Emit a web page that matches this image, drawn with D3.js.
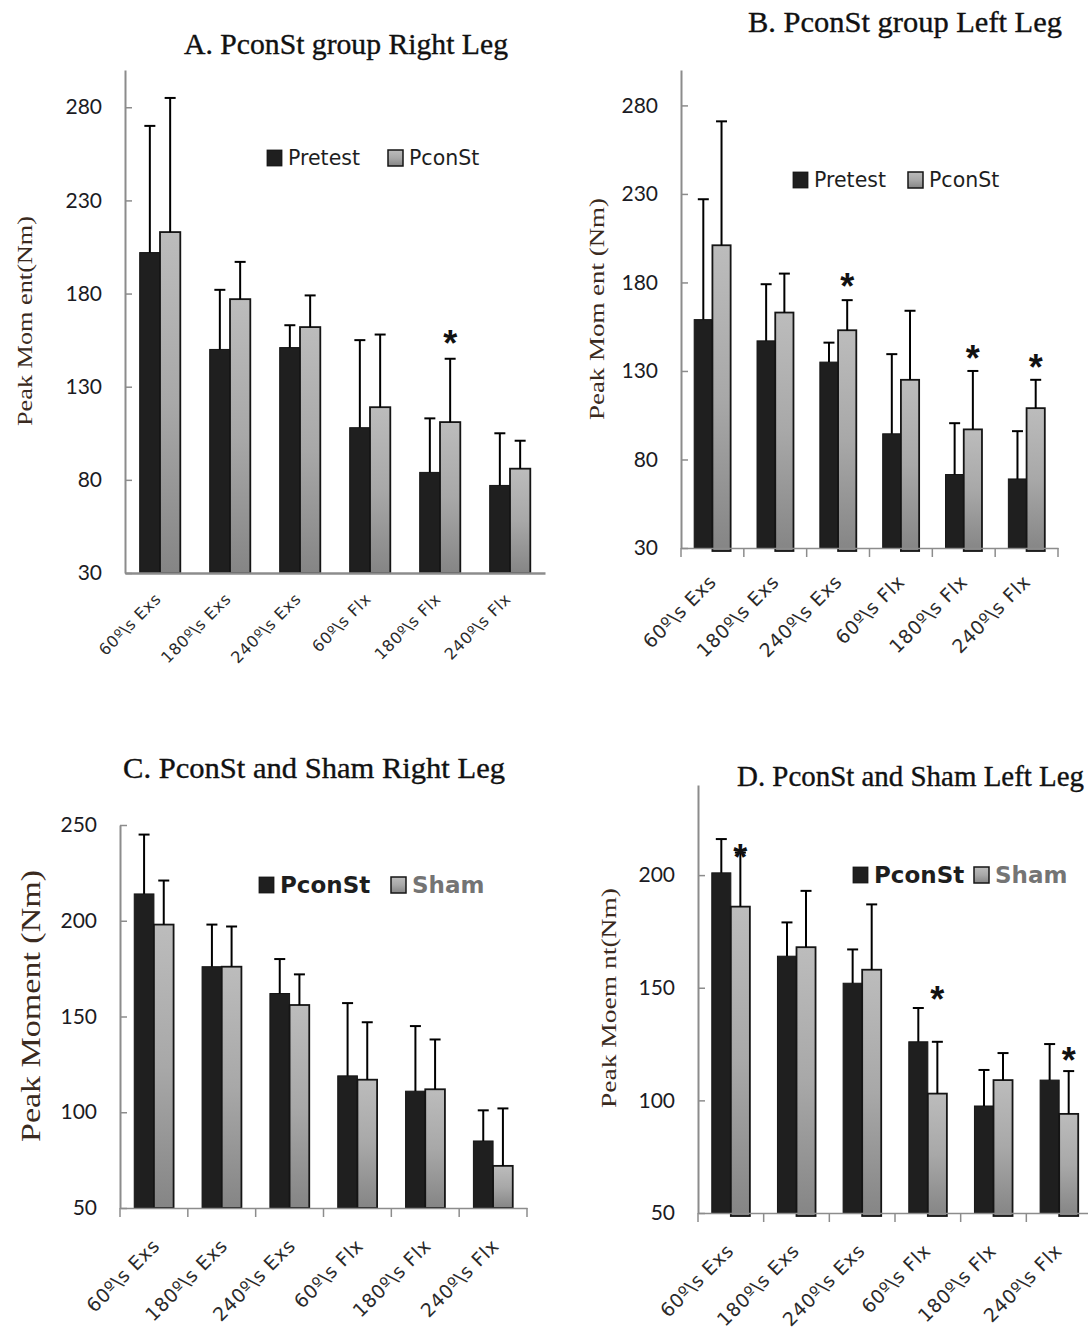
<!DOCTYPE html>
<html>
<head>
<meta charset="utf-8">
<script src="https://cdn.jsdelivr.net/npm/d3@7"></script>
<style>
  body { margin: 0; background: #fff; }
  svg { display: block; }
</style>
</head>
<body>
<svg id="chart" width="1088" height="1331"></svg>
<script>
// categories (shared by all four panels)
const categories = ["60º\\s Exs", "180º\\s Exs", "240º\\s Exs", "60º\\s Flx", "180º\\s Flx", "240º\\s Flx"];

// A. PconSt group, right leg
const rightPretest   = [202, 150, 151, 108, 84, 77];
const rightPretestSd = [68, 32, 12, 47, 29, 28];
const rightPconSt    = [213, 177, 162, 119, 111, 86];
const rightPconStSd  = [72, 20, 17, 39, 34, 15];
const rightStars     = [{ cat: 4, series: 1, at: 157 }];

// B. PconSt group, left leg
const leftPretest   = [159, 147, 135, 94.5, 71.5, 69];
const leftPretestSd = [68, 32, 11, 45, 29, 27];
const leftPconSt    = [201, 163, 153, 125, 97, 109];
const leftPconStSd  = [70, 22, 17, 39, 33, 16];
const leftStars     = [{ cat: 2, series: 1, at: 182 }, { cat: 4, series: 1, at: 141 }, { cat: 5, series: 1, at: 136 }];

// C. PconSt and Sham, right leg
const rightGroupPconSt   = [214, 176, 162, 119, 111, 85];
const rightGroupPconStSd = [31, 22, 18, 38, 34, 16];
const rightSham          = [198, 176, 156, 117, 112, 72];
const rightShamSd        = [23, 21, 16, 30, 26, 30];

// D. PconSt and Sham, left leg
const leftGroupPconSt   = [201, 164, 152, 126, 97.5, 109];
const leftGroupPconStSd = [15, 15, 15, 15, 16, 16];
const leftSham          = [186, 168, 158, 103, 109, 94];
const leftShamSd        = [24, 25, 29, 23, 12, 19];
const leftShamStars     = [{ cat: 0, series: 1, at: 211 }, { cat: 3, series: 1, at: 148 }, { cat: 5, series: 1, at: 121 }];

const ticksHigh = [30, 80, 130, 180, 230, 280];
const ticksC = [50, 100, 150, 200, 250];
const ticksD = [50, 100, 150, 200];

const panels = [
  {
    title: "A. PconSt group Right Leg", yLabel: "Peak Mom ent(Nm)",
    names: ["Pretest", "PconSt"], values: [rightPretest, rightPconSt], sds: [rightPretestSd, rightPconStSd],
    stars: rightStars, domain: [30, 300], ticks: ticksHigh,
    x0: 125, x1: 545, yTop: 70, yBase: 573,
    titleX: 184, titleY: 54, titleLen: 324,
    ylabX: 24, ylabY: 321, ylabLen: 210, ylabSize: 22,
    legX: [267, 388], legY: 158, legBold: false, legSize: 20.5,
    labSize: 16, labDx: 2, labDy: 27, xTicks: false, sink: 0, axisW: 2.5
  },
  {
    title: "B. PconSt group Left Leg", yLabel: "Peak Mom ent (Nm)",
    names: ["Pretest", "PconSt"], values: [leftPretest, leftPconSt], sds: [leftPretestSd, leftPconStSd],
    stars: leftStars, domain: [30, 300], ticks: ticksHigh,
    x0: 681, x1: 1058, yTop: 70, yBase: 548,
    titleX: 748, titleY: 32, titleLen: 314,
    ylabX: 596, ylabY: 309, ylabLen: 222, ylabSize: 22,
    legX: [793, 908], legY: 180, legBold: false, legSize: 20.5,
    labSize: 19, labDx: 5, labDy: 35, xTicks: true, sink: 3, axisW: 1.5
  },
  {
    title: "C. PconSt and Sham Right Leg", yLabel: "Peak  Moment  (Nm)",
    names: ["PconSt", "Sham"], values: [rightGroupPconSt, rightSham], sds: [rightGroupPconStSd, rightShamSd],
    stars: [], domain: [50, 250], ticks: ticksC,
    x0: 120, x1: 527, yTop: 825, yBase: 1208,
    titleX: 123, titleY: 778, titleLen: 382,
    ylabX: 30, ylabY: 1006, ylabLen: 272, ylabSize: 28,
    legX: [259, 391], legY: 885, legBold: true, legSize: 23,
    labSize: 19, labDx: 7, labDy: 39, xTicks: true, sink: 0, axisW: 1.5
  },
  {
    title: "D. PconSt and Sham Left Leg", yLabel: "Peak Moem nt(Nm)",
    names: ["PconSt", "Sham"], values: [leftGroupPconSt, leftSham], sds: [leftGroupPconStSd, leftShamSd],
    stars: leftShamStars, domain: [50, 240], ticks: ticksD,
    x0: 698, x1: 1092, yTop: 785, yBase: 1213,
    titleX: 737, titleY: 786, titleLen: 347,
    ylabX: 608, ylabY: 998, ylabLen: 220, ylabSize: 22,
    legX: [853, 974], legY: 875, legBold: true, legSize: 23,
    labSize: 19, labDx: 4, labDy: 39, xTicks: true, sink: 3, axisW: 1.5
  }
];

const svg = d3.select("#chart");
svg.append("rect").attr("width", 1088).attr("height", 1331).attr("fill", "#fff");

const defs = svg.append("defs");
const grad = defs.append("linearGradient").attr("id", "grayGrad")
  .attr("x1", 0).attr("y1", 0).attr("x2", 0).attr("y2", 1);
grad.append("stop").attr("offset", "0%").attr("stop-color", "#bcbcbc");
grad.append("stop").attr("offset", "50%").attr("stop-color", "#a8a8a8");
grad.append("stop").attr("offset", "100%").attr("stop-color", "#858585");

const fills = ["#1f1f1f", "url(#grayGrad)"];
const tickFont = "Lato, 'Open Sans', sans-serif";
const wideFont = "'DejaVu Sans', Verdana, sans-serif";
const serif = "'Liberation Serif', 'DejaVu Serif', serif";

panels.forEach(p => {
  const g = svg.append("g");

  const x = d3.scaleBand().domain(categories).range([p.x0, p.x1]).padding(0);
  const y = d3.scaleLinear().domain(p.domain).range([p.yBase, p.yTop]);
  const barW = x.bandwidth() * 0.29;
  const sub = d3.scaleBand().domain([0, 1]).range([-barW, barW]);

  // title
  g.append("text")
    .attr("x", p.titleX).attr("y", p.titleY)
    .attr("font-family", serif).attr("font-size", 29)
    .attr("fill", "#111").attr("stroke", "#111").attr("stroke-width", 0.35)
    .attr("textLength", p.titleLen).attr("lengthAdjust", "spacingAndGlyphs")
    .text(p.title);

  // y label
  g.append("text")
    .attr("transform", `translate(${p.ylabX},${p.ylabY}) rotate(-90)`)
    .attr("text-anchor", "middle").attr("dominant-baseline", "central")
    .attr("font-family", serif).attr("font-size", p.ylabSize)
    .attr("fill", "#3a2a20")
    .attr("textLength", p.ylabLen).attr("lengthAdjust", "spacingAndGlyphs")
    .text(p.yLabel);

  // bars
  p.values.forEach((vals, si) => {
    g.append("g").selectAll("rect")
      .data(vals)
      .join("rect")
      .attr("x", (d, i) => x(categories[i]) + x.bandwidth() / 2 + sub(si))
      .attr("width", sub.bandwidth())
      .attr("y", d => y(d))
      .attr("height", d => y(p.domain[0]) - y(d) + (si === 1 ? p.sink : 0))
      .attr("fill", fills[si])
      .attr("stroke", "#151515")
      .attr("stroke-width", si === 1 ? 1.8 : 1);
  });

  // error bars (upper only)
  p.values.forEach((vals, si) => {
    const eg = g.append("g").attr("stroke", "#000").attr("stroke-width", 2);
    vals.forEach((d, i) => {
      const cx = x(categories[i]) + x.bandwidth() / 2 + sub(si) + sub.bandwidth() / 2;
      const top = y(d + p.sds[si][i]);
      eg.append("line").attr("x1", cx).attr("x2", cx).attr("y1", y(d)).attr("y2", top);
      eg.append("line").attr("x1", cx - 5.5).attr("x2", cx + 5.5).attr("y1", top).attr("y2", top);
    });
  });

  // significance stars
  g.append("g").selectAll("text")
    .data(p.stars)
    .join("text")
    .attr("x", d => x(categories[d.cat]) + x.bandwidth() / 2 + sub(d.series) + sub.bandwidth() / 2)
    .attr("y", d => y(d.at) + 20)
    .attr("text-anchor", "middle")
    .attr("font-family", "'Liberation Sans', Arial, sans-serif")
    .attr("font-weight", "bold").attr("font-size", 36)
    .attr("fill", "#111")
    .text("*");

  // y axis
  const yAxis = g.append("g")
    .attr("transform", `translate(${p.x0},0)`)
    .call(d3.axisLeft(y).tickValues(p.ticks).tickSize(-7).tickSizeOuter(0).tickPadding(23));
  yAxis.select(".domain").attr("stroke", "#8c8c8c").attr("stroke-width", 2);
  yAxis.selectAll(".tick line").attr("stroke", "#8c8c8c").attr("stroke-width", 1.5);
  yAxis.selectAll(".tick text")
    .attr("font-family", tickFont).attr("font-size", 21).attr("fill", "#1b1b24");

  // x axis
  const xAxis = g.append("g")
    .attr("transform", `translate(0,${p.yBase})`)
    .call(d3.axisBottom(x).tickSize(0).tickSizeOuter(0));
  xAxis.select(".domain").attr("stroke", "#8c8c8c").attr("stroke-width", p.axisW);
  xAxis.selectAll(".tick text")
    .attr("x", 0).attr("y", 0).attr("dy", 0)
    .attr("transform", `translate(${p.labDx},${p.labDy}) rotate(-45)`)
    .attr("text-anchor", "end")
    .attr("font-family", wideFont).attr("font-size", p.labSize)
    .attr("letter-spacing", 0.6)
    .attr("fill", "#2a2a2a");

  if (p.xTicks) {
    const bounds = categories.map(c => x(c)).concat([x.range()[1]]);
    xAxis.append("g").selectAll("line")
      .data(bounds)
      .join("line")
      .attr("x1", d => d).attr("x2", d => d)
      .attr("y1", 0).attr("y2", 9)
      .attr("stroke", "#8c8c8c").attr("stroke-width", 1.5);
  }

  // legend
  const leg = g.append("g");
  p.names.forEach((name, si) => {
    leg.append("rect")
      .attr("x", p.legX[si]).attr("y", p.legY - 8)
      .attr("width", 15).attr("height", 16)
      .attr("fill", fills[si])
      .attr("stroke", "#151515").attr("stroke-width", si === 1 ? 1.5 : 0.8);
    leg.append("text")
      .attr("x", p.legX[si] + 21).attr("y", p.legY)
      .attr("dominant-baseline", "central")
      .attr("font-family", wideFont)
      .attr("font-size", p.legSize)
      .attr("font-weight", p.legBold ? "bold" : "normal")
      .attr("fill", p.legBold && si === 1 ? "#747474" : "#1e1e1e")
      .text(name);
  });
});
</script>
</body>
</html>
